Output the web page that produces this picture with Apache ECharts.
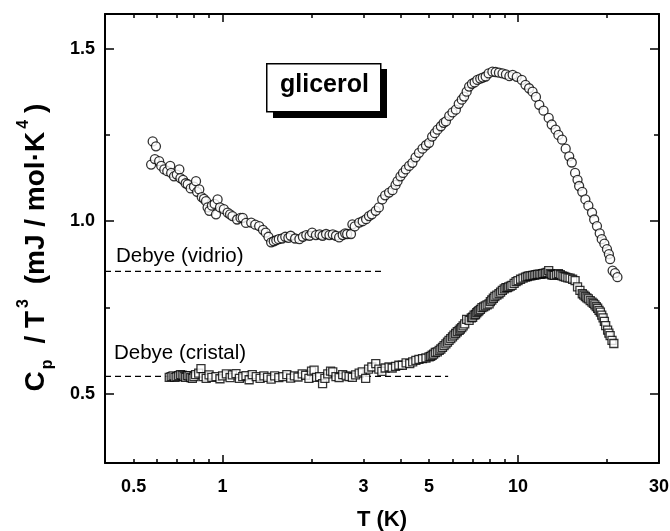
<!DOCTYPE html>
<html>
<head>
<meta charset="utf-8">
<script src="https://cdn.jsdelivr.net/npm/echarts@6/dist/echarts.min.js"></script>
<style>
html,body{margin:0;padding:0;background:#fff;}
#chart{width:670px;height:531px;}
</style>
</head>
<body>
<div id="chart"></div>
<script>
// ---- data (T in K, Cp/T^3 in mJ/mol K^4) ----
const glassT = [0.58,0.595,0.573,0.59,0.61,0.62,0.635,0.65,0.665,0.67,0.685,0.70,0.714,0.72,0.735,0.75,0.762,0.78,0.80,0.813,0.82,0.834,0.85,0.865,0.879,0.89,0.902,0.92,0.94,0.962,0.95,0.98,1.01,1.04,1.06,1.08,1.12,1.15,1.17,1.20,1.25,1.29,1.33,1.37,1.40,1.43,1.46,1.49,1.52,1.55,1.59,1.63,1.67,1.70,1.76,1.82,1.87,1.92,1.97,2.01,2.07,2.13,2.18,2.24,2.30,2.36,2.42,2.48,2.55,2.60,2.64,2.72,2.75,2.80,2.90,2.98,3.06,3.13,3.20,3.30,3.38,3.47,3.55,3.66,3.76,3.85,3.91,4.0,4.08,4.17,4.28,4.39,4.50,4.62,4.75,4.88,5.0,5.12,5.23,5.34,5.48,5.60,5.70,5.85,6.0,6.16,6.30,6.45,6.57,6.70,6.83,6.98,7.13,7.28,7.45,7.60,7.77,7.95,8.19,8.40,8.62,8.86,9.10,9.35,9.59,9.90,10.3,10.6,10.9,11.2,11.5,11.8,12.2,12.7,13.0,13.4,13.7,14.1,14.5,14.9,15.2,15.6,15.9,16.1,16.5,16.9,17.3,17.8,18.1,18.5,18.9,19.2,19.6,20.0,20.3,20.5,20.9,21.3,21.7];
const glassC = [1.231,1.217,1.164,1.18,1.174,1.16,1.15,1.145,1.16,1.14,1.13,1.135,1.15,1.125,1.12,1.11,1.107,1.095,1.10,1.116,1.085,1.092,1.07,1.065,1.058,1.04,1.03,1.045,1.05,1.063,1.02,1.04,1.035,1.025,1.02,1.015,1.005,1.01,1.01,0.995,0.996,0.99,0.986,0.975,0.967,0.955,0.939,0.942,0.945,0.948,0.95,0.955,0.952,0.958,0.95,0.948,0.955,0.96,0.958,0.967,0.96,0.962,0.958,0.963,0.96,0.962,0.958,0.953,0.96,0.965,0.963,0.963,0.991,0.985,0.996,1.0,1.006,1.015,1.02,1.03,1.04,1.063,1.075,1.083,1.09,1.105,1.116,1.13,1.14,1.15,1.16,1.169,1.185,1.198,1.21,1.22,1.227,1.245,1.255,1.265,1.275,1.285,1.289,1.305,1.315,1.323,1.34,1.352,1.361,1.375,1.39,1.398,1.402,1.409,1.413,1.416,1.419,1.428,1.433,1.432,1.43,1.428,1.425,1.42,1.424,1.418,1.409,1.395,1.385,1.375,1.36,1.337,1.32,1.299,1.28,1.265,1.25,1.236,1.21,1.188,1.17,1.14,1.12,1.102,1.085,1.063,1.045,1.025,1.005,0.986,0.965,0.948,0.935,0.919,0.905,0.89,0.857,0.85,0.838];

const crystalT = [0.66,0.67,0.68,0.69,0.70,0.71,0.72,0.73,0.74,0.75,0.76,0.77,0.78,0.79,0.80,0.81,0.83,0.845,0.86,0.88,0.90,0.92,0.95,0.98,1.0,1.03,1.06,1.08,1.11,1.14,1.17,1.20,1.23,1.26,1.30,1.34,1.38,1.42,1.46,1.50,1.55,1.60,1.65,1.70,1.75,1.80,1.86,1.91,1.96,2.0,2.04,2.08,2.13,2.18,2.22,2.27,2.32,2.36,2.42,2.48,2.55,2.62,2.68,2.75,2.82,2.90,2.97,3.05,3.12,3.20,3.30,3.38,3.46,3.55,3.66,3.75,3.85,3.95,4.06,4.18,4.30,4.40,4.51,4.62,4.75,4.88,5.0,5.06,5.12,5.18,5.25,5.33,5.41,5.48,5.55,5.62,5.70,5.77,5.84,5.92,6.0,6.07,6.15,6.23,6.32,6.38,6.45,6.52,6.60,6.70,6.83,6.95,7.02,7.10,7.18,7.25,7.32,7.38,7.46,7.55,7.65,7.75,7.86,7.98,8.06,8.15,8.25,8.35,8.48,8.62,8.73,8.85,8.98,9.10,9.20,9.30,9.42,9.54,9.70,9.85,10.0,10.2,10.4,10.6,10.75,10.9,11.05,11.2,11.35,11.5,11.65,11.8,11.95,12.1,12.25,12.4,12.55,12.7,12.85,13.0,13.15,13.3,13.5,13.7,13.9,14.1,14.3,14.5,14.75,15.0,15.3,15.6,15.9,16.2,16.5,16.7,16.9,17.1,17.3,17.55,17.8,18.0,18.2,18.4,18.6,18.8,19.0,19.2,19.4,19.6,19.8,20.1,20.3,20.5,20.8,21.1];
const crystalC = [0.548,0.55,0.552,0.548,0.55,0.553,0.556,0.554,0.55,0.548,0.553,0.552,0.547,0.545,0.55,0.556,0.56,0.573,0.55,0.545,0.555,0.548,0.55,0.544,0.552,0.558,0.547,0.555,0.559,0.545,0.55,0.553,0.541,0.556,0.55,0.545,0.552,0.548,0.543,0.552,0.547,0.55,0.556,0.546,0.552,0.549,0.558,0.554,0.545,0.566,0.569,0.548,0.55,0.53,0.545,0.558,0.566,0.564,0.55,0.547,0.556,0.552,0.55,0.548,0.555,0.56,0.564,0.545,0.572,0.578,0.588,0.572,0.565,0.575,0.578,0.575,0.58,0.583,0.583,0.59,0.588,0.593,0.597,0.6,0.602,0.604,0.607,0.609,0.612,0.615,0.62,0.622,0.626,0.63,0.635,0.64,0.645,0.65,0.655,0.66,0.665,0.67,0.675,0.68,0.684,0.688,0.692,0.697,0.703,0.716,0.713,0.72,0.722,0.728,0.73,0.735,0.738,0.741,0.745,0.75,0.752,0.755,0.758,0.761,0.767,0.772,0.777,0.782,0.786,0.79,0.795,0.8,0.804,0.808,0.808,0.81,0.812,0.814,0.82,0.825,0.828,0.832,0.835,0.838,0.84,0.842,0.842,0.843,0.844,0.845,0.846,0.847,0.846,0.848,0.849,0.85,0.852,0.857,0.848,0.845,0.844,0.843,0.846,0.848,0.845,0.842,0.84,0.838,0.836,0.835,0.832,0.828,0.81,0.8,0.79,0.786,0.782,0.778,0.775,0.77,0.766,0.762,0.758,0.753,0.748,0.742,0.737,0.728,0.72,0.71,0.698,0.685,0.676,0.669,0.655,0.646];

// Debye reference levels
const debyeGlass = {value: 0.855, from: 0.4, to: 3.5, label: 'Debye (vidrio)'};
const debyeCrystal = {value: 0.551, from: 0.4, to: 5.8, label: 'Debye (cristal)'};

// ticks / labels
const xLabelValues = [0.5, 1, 3, 5, 10, 30];
const xMajorTicks = [1, 10];
const xMinorTicks = [0.5,0.6,0.7,0.8,0.9,2,3,4,5,6,7,8,9,20];
const yLabelValues = [0.5, 1.0, 1.5];
const yMinorTicks = [0.75, 1.25];

const glassData = glassT.map((t, i) => [t, glassC[i]]);
const crystalData = crystalT.map((t, i) => [t, crystalC[i]]);

const FONT = '"Liberation Sans", Arial, Helvetica, sans-serif';
const X_MIN = 0.4, X_MAX = 30, Y_MIN = 0.3, Y_MAX = 1.6;

function xAxisDef(pos, ticks, len, showLine, showLabel) {
  return {
    type: 'log', logBase: 10, min: X_MIN, max: X_MAX, position: pos,
    axisLine: {show: showLine, onZero: false, lineStyle: {color: '#000', width: 2}},
    axisTick: {show: true, inside: true, length: len, customValues: ticks, lineStyle: {color: '#000', width: 1.5}},
    axisLabel: {show: showLabel, customValues: xLabelValues, margin: 15,
      formatter: v => String(+(+v).toPrecision(3)),
      color: '#000', fontFamily: FONT, fontWeight: 'bold', fontSize: 18},
    splitLine: {show: false}, minorTick: {show: false}
  };
}
function yAxisDef(pos, ticks, len, showLine, showLabel) {
  return {
    type: 'value', min: Y_MIN, max: Y_MAX, position: pos,
    axisLine: {show: showLine, onZero: false, lineStyle: {color: '#000', width: 2}},
    axisTick: {show: true, inside: true, length: len, customValues: ticks, lineStyle: {color: '#000', width: 1.5}},
    axisLabel: {show: showLabel, customValues: yLabelValues, margin: 10,
      formatter: v => (+v).toFixed(1),
      color: '#000', fontFamily: FONT, fontWeight: 'bold', fontSize: 18},
    splitLine: {show: false}
  };
}

const xAxes = [
  Object.assign(xAxisDef('bottom', xMajorTicks, 8, true, true), {
    name: 'T (K)', nameLocation: 'middle', nameGap: 46,
    nameTextStyle: {color: '#000', fontFamily: FONT, fontWeight: 'bold', fontSize: 22}
  }),
  xAxisDef('bottom', xMinorTicks, 4, false, false),
  xAxisDef('top', xMajorTicks, 8, true, false),
  xAxisDef('top', xMinorTicks, 4, false, false)
];
const yAxes = [
  Object.assign(yAxisDef('left', yLabelValues, 9, true, true), {
    name: '{b|C}{sub|p}{b| / T}{sup|3}{b| (mJ / mol·K}{sup|4}{e|)}',
    nameLocation: 'middle', nameRotate: 90, nameGap: 49,
    nameTextStyle: {
      rich: {
        b: {fontFamily: FONT, fontWeight: 'bold', fontSize: 28, color: '#000', lineHeight: 40},
        e: {fontFamily: FONT, fontWeight: 'bold', fontSize: 28, color: '#000', lineHeight: 40, padding: [0, 18, 0, 0]},
        sub: {fontFamily: FONT, fontWeight: 'bold', fontSize: 16, color: '#000', verticalAlign: 'bottom', lineHeight: 18, padding: [0, 8, 0, 2]},
        sup: {fontFamily: FONT, fontWeight: 'bold', fontSize: 16, color: '#000', verticalAlign: 'top', lineHeight: 18, padding: [0, 7, 0, 3]}
      }
    }
  }),
  yAxisDef('left', yMinorTicks, 5, false, false),
  yAxisDef('right', yLabelValues, 9, true, false),
  yAxisDef('right', yMinorTicks, 5, false, false)
];

function debyeSeries(d) {
  return {
    type: 'line', xAxisIndex: 0, yAxisIndex: 0, symbol: 'none', silent: true,
    data: [[d.from, d.value], [d.to, d.value]],
    lineStyle: {color: '#000', width: 1.2, type: [6, 4]},
    z: 1
  };
}

const chart = echarts.init(document.getElementById('chart'), null, {renderer: 'canvas'});
chart.setOption({
  animation: false,
  backgroundColor: '#fff',
  grid: {left: 105, right: 11, top: 14, bottom: 68, containLabel: false, outerBoundsMode: 'none'},
  xAxis: xAxes,
  yAxis: yAxes,
  series: [
    debyeSeries(debyeGlass),
    debyeSeries(debyeCrystal),
    {
      type: 'scatter', xAxisIndex: 0, yAxisIndex: 0, data: crystalData,
      symbol: 'rect', symbolSize: 8,
      itemStyle: {color: '#fff', borderColor: '#000', borderWidth: 1.3}, z: 3
    },
    {
      type: 'scatter', xAxisIndex: 0, yAxisIndex: 0, data: glassData,
      symbol: 'circle', symbolSize: 9,
      itemStyle: {color: '#fff', borderColor: '#000', borderWidth: 1.3}, z: 3
    }
  ],
  graphic: [
    {type: 'text', left: 116, top: 246, style: {text: debyeGlass.label, fontFamily: FONT, fontSize: 20.5, fill: '#000'}},
    {type: 'text', left: 114, top: 343, style: {text: debyeCrystal.label, fontFamily: FONT, fontSize: 20.5, fill: '#000'}},
    {type: 'rect', left: 273, top: 69, shape: {width: 114, height: 49}, style: {fill: '#000'}},
    {type: 'rect', left: 266, top: 63, shape: {width: 114, height: 48}, style: {fill: '#fff', stroke: '#000', lineWidth: 1.5}},
    {type: 'text', left: 280, top: 73, style: {text: 'glicerol', fontFamily: FONT, fontWeight: 'bold', fontSize: 25, fill: '#000'}}
  ]
});
</script>
</body>
</html>
